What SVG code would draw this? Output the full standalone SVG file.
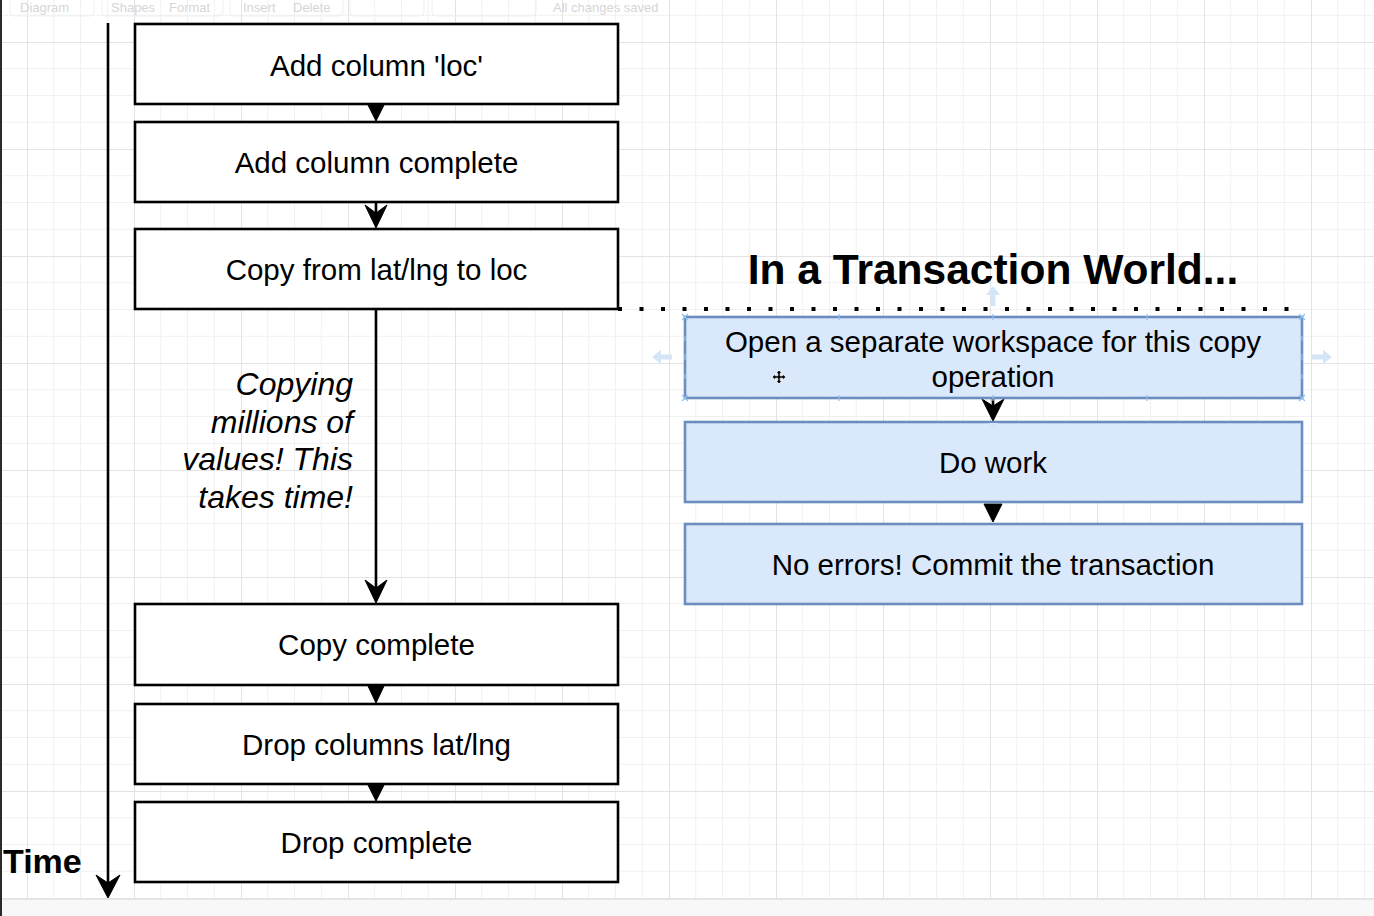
<svg xmlns="http://www.w3.org/2000/svg" width="1374" height="916" viewBox="0 0 1374 916">
<style>
.box{fill:#ffffff;stroke:#000000;stroke-width:2.6}
.tbox{fill:#dae8fc;stroke:#6c8ebf;stroke-width:2.6}
.lbl{font-family:"Liberation Sans",Arial,Helvetica,sans-serif;font-size:29.5px;text-anchor:middle;fill:#000000}
.note{font-family:"Liberation Sans",Arial,Helvetica,sans-serif;font-size:32px;font-style:italic;text-anchor:end;fill:#000000}
.title{font-family:"Liberation Sans",Arial,Helvetica,sans-serif;font-size:42.5px;font-weight:bold;text-anchor:middle;fill:#000000}
.time{font-family:"Liberation Sans",Arial,Helvetica,sans-serif;font-size:34px;font-weight:bold;text-anchor:start;fill:#000000}
.ui{font-family:"Liberation Sans",Arial,Helvetica,sans-serif;font-size:13px;fill:#d6d6d6}
.edge{stroke:#000000;stroke-width:2.6;fill:none}
.head{fill:#000000;stroke:#000000;stroke-width:1;stroke-linejoin:miter}
.hover{fill:#d3e5f7}
.handle{stroke:#8fc0ec;stroke-width:1.2;fill:none}
.tb{fill:none;stroke:#efefef;stroke-width:1}
</style>
<defs>
<pattern id="grid" patternUnits="userSpaceOnUse" x="27" y="42" width="107" height="107">
<path d="M26.75 0V107M53.5 0V107M80.25 0V107M0 26.75H107M0 53.5H107M0 80.25H107" stroke="#f1f1f1" stroke-width="1" fill="none"/>
<path d="M0.5 0V107M0 0.5H107" stroke="#e3e3e3" stroke-width="1" fill="none"/>
</pattern>
</defs>

<rect x="0" y="0" width="1374" height="916" fill="#ffffff"/>
<rect x="0" y="0" width="1374" height="899" fill="url(#grid)"/>
<rect x="0" y="899" width="1374" height="17" fill="#f8f8f8"/>
<line x1="0" y1="899.5" x2="1374" y2="899.5" stroke="#e6e6e6" stroke-width="1"/>
<rect x="0" y="0" width="2" height="916" fill="#2a2a2a"/>

<g id="toolbar">
<rect class="tb" x="10" y="-10" width="84" height="26" rx="4"/>
<rect class="tb" x="102" y="-10" width="121" height="26" rx="4"/>
<rect class="tb" x="230" y="-10" width="113" height="26" rx="4"/>
<rect class="tb" x="350" y="-10" width="74" height="26" rx="4"/>
<rect class="tb" x="432" y="-10" width="104" height="26" rx="4"/>
<text class="ui" x="20" y="12">Diagram</text>
<text class="ui" x="111" y="12">Shapes</text>
<text class="ui" x="169" y="12">Format</text>
<text class="ui" x="243" y="12">Insert</text>
<text class="ui" x="293" y="12">Delete</text>
<text class="ui" x="553" y="12">All changes saved</text>
</g>

<g id="connectors">
<line class="edge" x1="108" y1="23" x2="108" y2="884"/>
<path class="head" d="M108,898 L96,875 L108,883 L120,875 Z"/>
<path class="head" d="M368,105 L384,105 L376,121 Z"/>
<line class="edge" x1="376" y1="203" x2="376" y2="214"/>
<path class="head" d="M376,228 L365,205 L376,213 L387,205 Z"/>
<line class="edge" x1="376" y1="309" x2="376" y2="590"/>
<path class="head" d="M376,603 L365,580 L376,588 L387,580 Z"/>
<path class="head" d="M368,686 L384,686 L376,703 Z"/>
<path class="head" d="M368,785 L384,785 L376,801 Z"/>
<line class="edge" x1="993" y1="398" x2="993" y2="408"/>
<path class="head" d="M993,421 L982,399 L993,406 L1004,399 Z"/>
<path class="head" d="M984,504 L1002,504 L993,522 Z"/>
<line x1="618" y1="309" x2="1290" y2="309" stroke="#000000" stroke-width="4" stroke-dasharray="4 17.5"/>
</g>

<g id="time-label">
<text class="time" x="3" y="873">Time</text>
</g>

<g id="node-add-column">
<rect class="box" x="135" y="24" width="483" height="80"/>
<text class="lbl" x="376.5" y="76">Add column 'loc'</text>
</g>
<g id="node-add-column-complete">
<rect class="box" x="135" y="122" width="483" height="80"/>
<text class="lbl" x="376.5" y="173">Add column complete</text>
</g>
<g id="node-copy">
<rect class="box" x="135" y="229" width="483" height="80"/>
<text class="lbl" x="376.5" y="280">Copy from lat/lng to loc</text>
</g>
<g id="note-copying">
<text class="note" x="353"><tspan x="353" y="395">Copying</tspan><tspan x="353" y="432.5">millions of</tspan><tspan x="353" y="470">values! This</tspan><tspan x="353" y="507.5">takes time!</tspan></text>
</g>
<g id="node-copy-complete">
<rect class="box" x="135" y="604" width="483" height="81"/>
<text class="lbl" x="376.5" y="655">Copy complete</text>
</g>
<g id="node-drop-columns">
<rect class="box" x="135" y="704" width="483" height="80"/>
<text class="lbl" x="376.5" y="755">Drop columns lat/lng</text>
</g>
<g id="node-drop-complete">
<rect class="box" x="135" y="802" width="483" height="80"/>
<text class="lbl" x="376.5" y="853">Drop complete</text>
</g>

<g id="title">
<text class="title" x="993" y="284">In a Transaction World...</text>
</g>

<g id="node-open-workspace">
<rect class="tbox" x="685" y="317" width="617" height="81"/>
<text class="lbl" x="993" y="352">Open a separate workspace for this copy</text>
<text class="lbl" x="993" y="387">operation</text>
</g>
<g id="node-do-work">
<rect class="tbox" x="685" y="422" width="617" height="80"/>
<text class="lbl" x="993" y="473">Do work</text>
</g>
<g id="node-commit">
<rect class="tbox" x="685" y="524" width="617" height="80"/>
<text class="lbl" x="993" y="575">No errors! Commit the transaction</text>
</g>

<g id="selection-ui">
<path class="hover" d="M652,357 L661,350 L661,354.5 L672,354.5 L672,359.5 L661,359.5 L661,364 Z"/>
<path class="hover" d="M1332,357 L1323,350 L1323,354.5 L1312,354.5 L1312,359.5 L1323,359.5 L1323,364 Z"/>
<path class="hover" d="M993,286 L986,295 L990.5,295 L990.5,306 L995.5,306 L995.5,295 L1000,295 Z"/>
<path class="hover" d="M988,423 L998,423 L993,429 Z"/>
<path class="handle" d="M682,314 L688,320 M688,314 L682,320 M1299,314 L1305,320 M1305,314 L1299,320 M682,395 L688,401 M688,395 L682,401 M1299,395 L1305,401 M1305,395 L1299,401"/>
<path class="handle" d="M685,336 V341 M685,354 V360 M685,374 V379 M1302,336 V341 M1302,354 V360 M1302,374 V379 M839,314 V320 M993,314 V320 M1147,314 V320 M839,395 V401 M993,395 V401 M1147,395 V401"/>
<path d="M779,370 L782,373.5 L780.2,373.5 L780.2,375.8 L782.5,375.8 L782.5,374 L786,377 L782.5,380 L782.5,378.2 L780.2,378.2 L780.2,380.5 L782,380.5 L779,384 L776,380.5 L777.8,380.5 L777.8,378.2 L775.5,378.2 L775.5,380 L772,377 L775.5,374 L775.5,375.8 L777.8,375.8 L777.8,373.5 L776,373.5 Z" fill="#000000" stroke="#ffffff" stroke-width="0.8"/>
</g>
</svg>
